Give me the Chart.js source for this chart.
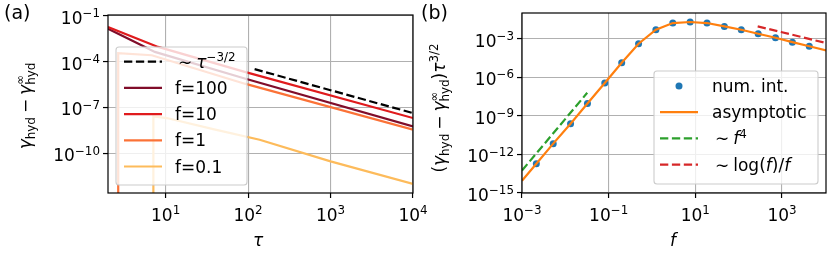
<!DOCTYPE html>
<html>
<head>
<meta charset="utf-8">
<script src="https://cdn.jsdelivr.net/npm/chart.js@4.4.0/dist/chart.umd.min.js"></script>
<style>
  body { margin: 0; background: #fff; width: 830px; height: 258px; overflow: hidden; position: relative; }
  canvas { position: absolute; top: 0; }
  #chartA { left: 0; }
  #chartB { left: 420px; }
</style>
</head>
<body>
<canvas id="chartA" width="445" height="258"></canvas>
<canvas id="chartB" width="410" height="258"></canvas>
<script>
// ---- panel (a): decay vs tau ----
const tauDash = [120, 1e4];
const valDash = [3.2e-5, 4.3e-8];
const tauF100 = [2, 5.1, 7.4, 91, 1e4];
const valF100 = [1.41e-2, 1.17e-3, 4.3e-4, 7.8e-6, 5.75e-9];
const tauF10 = [2, 8.1, 91, 1e4];
const valF10 = [1.82e-2, 9.1e-4, 2.14e-5, 2.04e-8];
const tauF1 = [2.66, 2.66, 6.8, 91, 1e4];
const valF1 = [1e-30, 3.5e-4, 2.6e-4, 3.6e-6, 3.5e-9];
const tauF01 = [7.1, 7.1, 10.3, 40, 138, 1e3, 1e4];
const valF01 = [1e-30, 2.6e-8, 2.04e-8, 3.6e-9, 7.8e-10, 3.0e-11, 1.0e-12];
const xTicksA = [10, 100, 1000, 10000];
const yTicksA = [1e-10, 1e-7, 1e-4, 1e-1];

// ---- panel (b): prefactor vs f ----
const fNum = [2.14e-3, 5.25e-3, 1.32e-2, 3.24e-2, 8.13e-2, 0.20, 0.49, 1.23, 3.02, 7.59, 18.6, 46.8, 115, 282, 708, 1738, 4266];
const valNum = [1.86e-13, 6.9e-12, 2.45e-10, 9.1e-9, 3.55e-7, 1.35e-5, 4.07e-4, 5.0e-3, 1.66e-2, 2.0e-2, 1.66e-2, 9.1e-3, 5.0e-3, 2.45e-3, 1.2e-3, 5.4e-4, 2.6e-4];
const fAsym = [1e-3, 2.14e-3, 5.25e-3, 1.32e-2, 3.24e-2, 8.13e-2, 0.20, 0.49, 1.23, 3.02, 7.59, 18.6, 46.8, 115, 282, 708, 1738, 4266, 1.1e4];
const valAsym = [8.9e-15, 1.86e-13, 6.9e-12, 2.45e-10, 9.1e-9, 3.55e-7, 1.35e-5, 4.07e-4, 5.0e-3, 1.66e-2, 2.0e-2, 1.66e-2, 9.1e-3, 5.0e-3, 2.45e-3, 1.2e-3, 5.4e-4, 2.6e-4, 1.17e-4];
const fQuart = [1e-3, 3.2e-2];
const valQuart = [5.6e-14, 6.2e-8];
const fLog = [275, 1000, 1.1e4];
const valLog = [9.1e-3, 3.2e-3, 4.4e-4];
const xTicksB = [1e-3, 1e-1, 10, 1000];
const yTicksB = [1e-15, 1e-12, 1e-9, 1e-6, 1e-3];

const FONT = '"DejaVu Sans"';
const FS = 17;

function pts(xs, ys) { return xs.map((x, i) => ({ x: x, y: ys[i] })); }
function fnt(size, it) { return (it ? 'italic ' : '') + size.toFixed(1) + 'px ' + FONT; }

// small mathtext-like runs: {t, it, s:'sup'|'sub'} , {stack:[sup, sub]}, {sp:px}
function layoutRun(ctx, run, fs) {
    let w = 0;
    const out = [];
    for (const p of run) {
        if (p.sp) { w += p.sp; continue; }
        if (p.stack) {
            let adv = 0;
            ctx.font = fnt(fs * 0.7, false);
            out.push({ x: w, dy: -0.4 * fs, font: ctx.font, t: p.stack[0] });
            adv = Math.max(adv, ctx.measureText(p.stack[0]).width);
            out.push({ x: w, dy: 0.24 * fs, font: ctx.font, t: p.stack[1] });
            adv = Math.max(adv, ctx.measureText(p.stack[1]).width);
            w += adv;
            continue;
        }
        const size = p.s ? fs * 0.7 : fs;
        const dy = p.s === 'sup' ? -0.4 * fs : (p.s === 'sub' ? 0.24 * fs : 0);
        ctx.font = fnt(size, p.it);
        out.push({ x: w, dy: dy, font: ctx.font, t: p.t });
        w += ctx.measureText(p.t).width;
    }
    return { w: w, out: out };
}

function drawRun(ctx, run, x, y, fs, align) {
    const L = layoutRun(ctx, run, fs);
    let x0 = x;
    if (align === 'center') x0 = x - L.w / 2;
    if (align === 'right') x0 = x - L.w;
    ctx.textAlign = 'left';
    ctx.textBaseline = 'alphabetic';
    ctx.fillStyle = '#000';
    for (const o of L.out) {
        ctx.font = o.font;
        ctx.fillText(o.t, x0 + o.x, y + o.dy);
    }
}

function powLabel(v) {
    const e = Math.round(Math.log10(v));
    return [{ t: '10' }, { t: (e < 0 ? '\u2212' : '') + Math.abs(e), s: 'sup' }];
}

function logAxis(min, max, ticks, size, isX) {
    return {
        type: 'logarithmic',
        min: min,
        max: max,
        bounds: 'data',
        afterBuildTicks: s => { s.ticks = ticks.map(v => ({ value: v })); },
        afterFit: s => { if (isX) s.height = size; else s.width = size; },
        ticks: { display: false },
        grid: { color: '#b0b0b0', lineWidth: 1.1, tickColor: '#000', tickLength: 5, tickWidth: 1.2, drawTicks: true },
        border: { display: false }
    };
}

function panelPlugin(cfg) {
    return {
        id: 'panel' + cfg.name,
        afterDatasetsDraw(chart) {
            const ctx = chart.ctx;
            const a = chart.chartArea;
            ctx.save();
            ctx.strokeStyle = '#000';
            ctx.lineWidth = 1.2;
            ctx.strokeRect(a.left, a.top, a.right - a.left, a.bottom - a.top);

            // legend
            const lg = cfg.legend;
            ctx.beginPath();
            ctx.roundRect(lg.x, lg.y, lg.w, lg.h, 3);
            ctx.fillStyle = 'rgba(255,255,255,0.8)';
            ctx.fill();
            ctx.strokeStyle = '#cccccc';
            ctx.lineWidth = 1.1;
            ctx.stroke();
            lg.items.forEach((it, i) => {
                const y = lg.rowY + i * lg.rowH;
                if (it.dot) {
                    ctx.beginPath();
                    ctx.fillStyle = it.color;
                    ctx.arc((lg.hx0 + lg.hx1) / 2, y, 3.5, 0, Math.PI * 2);
                    ctx.fill();
                } else {
                    ctx.beginPath();
                    ctx.strokeStyle = it.color;
                    ctx.lineWidth = 2.2;
                    ctx.setLineDash(it.dash || []);
                    ctx.moveTo(lg.hx0, y);
                    ctx.lineTo(lg.hx1, y);
                    ctx.stroke();
                    ctx.setLineDash([]);
                }
                drawRun(ctx, it.label, lg.tx, y + 6, FS, 'left');
            });
            ctx.restore();
        },
        afterDraw(chart) {
            const ctx = chart.ctx;
            const a = chart.chartArea;
            const xs = chart.scales.x, ys = chart.scales.y;
            ctx.save();
            xs.ticks.forEach(t => {
                drawRun(ctx, powLabel(t.value), xs.getPixelForValue(t.value), a.bottom + 28, FS, 'center');
            });
            ys.ticks.forEach(t => {
                drawRun(ctx, powLabel(t.value), a.left - 8, ys.getPixelForValue(t.value) + 8, FS, 'right');
            });
            // x label
            drawRun(ctx, cfg.xlabel, cfg.xlabelX, 246, FS, 'center');
            // y label (rotated)
            ctx.save();
            ctx.translate(cfg.ylabelX, cfg.ylabelY);
            ctx.rotate(-Math.PI / 2);
            drawRun(ctx, cfg.ylabel, 0, 0, FS, 'center');
            ctx.restore();
            // panel tag
            ctx.font = '19px ' + FONT;
            ctx.fillStyle = '#000';
            ctx.textAlign = 'left';
            ctx.fillText(cfg.tag, cfg.tagX, 19);
            ctx.restore();
        }
    };
}

function lineSet(data, color, dash, order) {
    return { data: data, showLine: true, borderColor: color, borderWidth: 2.2, borderDash: dash || [],
             pointRadius: 0, fill: false, tension: 0, order: order };
}

const cA = { f100: '#800d2a', f10: '#e01b1d', f1: '#fb7237', f01: '#fdbb5b' };

new Chart(document.getElementById('chartA'), {
    type: 'scatter',
    data: {
        datasets: [
            lineSet(pts(tauDash, valDash), '#000', [8.3, 3.6], 5),
            lineSet(pts(tauF100, valF100), cA.f100, null, 4),
            lineSet(pts(tauF10, valF10), cA.f10, null, 3),
            lineSet(pts(tauF1, valF1), cA.f1, null, 2),
            lineSet(pts(tauF01, valF01), cA.f01, null, 1)
        ]
    },
    options: {
        responsive: false,
        animation: false,
        layout: { padding: { left: 0, top: 15, right: 32, bottom: 0 } },
        plugins: { legend: { display: false }, tooltip: { enabled: false } },
        scales: {
            x: logAxis(2, 1e4, xTicksA, 65, true),
            y: logAxis(Math.pow(10, -12.59), Math.pow(10, -0.954), yTicksA, 108, false)
        }
    },
    plugins: [panelPlugin({
        name: 'A', tag: '(a)', tagX: 4,
        xlabel: [{ t: '\u03c4', it: true }], xlabelX: 258,
        ylabel: [{ t: '\u03b3', it: true }, { t: 'hyd', s: 'sub' }, { sp: 4 }, { t: '\u2212' }, { sp: 4 },
                 { t: '\u03b3', it: true }, { stack: ['\u221e', 'hyd'] }],
        ylabelX: 31, ylabelY: 106,
        legend: {
            x: 116, y: 47, w: 131, h: 138, rowY: 61.7, rowH: 26.2, hx0: 124, hx1: 162, tx: 175,
            items: [
                { color: '#000', dash: [8.3, 3.6], label: [{ sp: 3 }, { t: '\u223c' }, { sp: 4 }, { t: '\u03c4', it: true }, { t: '\u22123/2', s: 'sup' }] },
                { color: cA.f100, label: [{ t: 'f=100' }] },
                { color: cA.f10, label: [{ t: 'f=10' }] },
                { color: cA.f1, label: [{ t: 'f=1' }] },
                { color: cA.f01, label: [{ t: 'f=0.1' }] }
            ]
        }
    })]
});

new Chart(document.getElementById('chartB'), {
    type: 'scatter',
    data: {
        datasets: [
            { data: pts(fNum, valNum), showLine: false, pointRadius: 3.5, pointBackgroundColor: '#1f77b4',
              pointBorderWidth: 0, order: 4 },
            lineSet(pts(fAsym, valAsym), '#ff7f0e', null, 3),
            lineSet(pts(fQuart, valQuart), '#2ca02c', [8.3, 3.6], 2),
            lineSet(pts(fLog, valLog), '#d62728', [8.3, 3.6], 1)
        ]
    },
    options: {
        responsive: false,
        animation: false,
        layout: { padding: { left: 0, top: 13, right: 3, bottom: 0 } },
        plugins: { legend: { display: false }, tooltip: { enabled: false } },
        scales: {
            x: logAxis(1e-3, Math.pow(10, 4.016), xTicksB, 65, true),
            y: logAxis(1e-15, 1e-1, yTicksB, 102, false)
        }
    },
    plugins: [panelPlugin({
        name: 'B', tag: '(b)', tagX: 1,
        xlabel: [{ t: 'f', it: true }], xlabelX: 253,
        ylabel: [{ t: '(' }, { t: '\u03b3', it: true }, { t: 'hyd', s: 'sub' }, { sp: 4 }, { t: '\u2212' }, { sp: 4 },
                 { t: '\u03b3', it: true }, { stack: ['\u221e', 'hyd'] }, { t: ')' }, { t: '\u03c4', it: true }, { t: '3/2', s: 'sup' }],
        ylabelX: 25, ylabelY: 108,
        legend: {
            x: 234, y: 71, w: 164, h: 113, rowY: 86, rowH: 26.2, hx0: 240, hx1: 278, tx: 292,
            items: [
                { dot: true, color: '#1f77b4', label: [{ t: 'num. int.' }] },
                { color: '#ff7f0e', label: [{ t: 'asymptotic' }] },
                { color: '#2ca02c', dash: [8.3, 3.6], label: [{ sp: 3 }, { t: '\u223c' }, { sp: 4 }, { t: 'f', it: true }, { t: '4', s: 'sup' }] },
                { color: '#d62728', dash: [8.3, 3.6], label: [{ sp: 3 }, { t: '\u223c' }, { sp: 4 }, { t: 'log(' }, { t: 'f', it: true }, { t: ')/' }, { t: 'f', it: true }] }
            ]
        }
    })]
});
</script>
</body>
</html>
